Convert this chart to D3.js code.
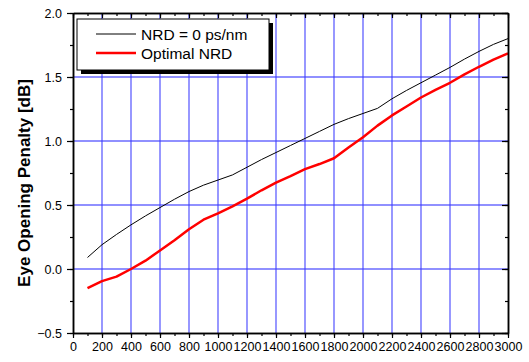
<!DOCTYPE html>
<html>
<head>
<meta charset="utf-8">
<script src="https://cdn.jsdelivr.net/npm/d3@7/dist/d3.min.js"></script>
<style>
  body { margin: 0; background: #fff; }
  svg { display: block; font-family: "Liberation Sans", Arial, sans-serif; }
</style>
</head>
<body>
<svg id="chart" width="529" height="362"></svg>
<script>
// transmission distance [km]
const distance = [100, 200, 300, 400, 500, 600, 700, 800, 900, 1000,
  1100, 1200, 1300, 1400, 1500, 1600, 1700, 1800, 1900, 2000,
  2100, 2200, 2300, 2400, 2500, 2600, 2700, 2800, 2900, 3000]

// eye opening penalty, NRD = 0 ps/nm
const penaltyZero = [0.09, 0.19, 0.27, 0.345, 0.415, 0.48, 0.545, 0.605, 0.655, 0.695,
  0.735, 0.795, 0.855, 0.91, 0.965, 1.02, 1.075, 1.13, 1.175, 1.215,
  1.255, 1.33, 1.395, 1.455, 1.515, 1.575, 1.64, 1.70, 1.755, 1.80]

// eye opening penalty, optimal NRD
const penaltyOpt = [-0.15, -0.095, -0.06, 0.0, 0.065, 0.145, 0.225, 0.31, 0.385, 0.435,
  0.49, 0.55, 0.615, 0.675, 0.725, 0.78, 0.82, 0.865, 0.95, 1.03,
  1.12, 1.2, 1.27, 1.34, 1.4, 1.455, 1.52, 1.58, 1.635, 1.685]

const xTicks = d3.range(0, 3001, 200)
const yTicks = [-0.5, 0.0, 0.5, 1.0, 1.5, 2.0]
const seriesNames = ['NRD = 0 ps/nm', 'Optimal NRD']

const margin = { top: 13, right: 21, bottom: 29, left: 73 }
const W = 529, H = 362
const w = W - margin.left - margin.right
const h = H - margin.top - margin.bottom
const FONT = '"Liberation Sans", Arial, sans-serif'

const svg = d3.select('#chart')
const g = svg.append('g').attr('transform', `translate(${margin.left},${margin.top})`)

const x = d3.scaleLinear().domain([0, 3000]).range([0, w])
const y = d3.scaleLinear().domain([-0.5, 2.0]).range([h, 0])

// grid
g.append('g')
  .selectAll('line')
  .data(xTicks.slice(1, -1))
  .join('line')
  .attr('x1', d => x(d)).attr('x2', d => x(d))
  .attr('y1', 0).attr('y2', h)
  .attr('stroke', '#3a3aff').attr('stroke-opacity', 0.75).attr('stroke-width', 1.4)
g.append('g')
  .selectAll('line')
  .data(yTicks.slice(1, -1))
  .join('line')
  .attr('x1', 0).attr('x2', w)
  .attr('y1', d => y(d)).attr('y2', d => y(d))
  .attr('stroke', '#3a3aff').attr('stroke-opacity', 0.75).attr('stroke-width', 1.4)

// data lines
const line = (vals) => d3.line().x((d, i) => x(distance[i])).y(d => y(d))(vals)
g.append('path').attr('d', line(penaltyZero))
  .attr('fill', 'none').attr('stroke', '#000').attr('stroke-width', 1)
g.append('path').attr('d', line(penaltyOpt))
  .attr('fill', 'none').attr('stroke', '#ff0000').attr('stroke-width', 2.5)
  .attr('stroke-linejoin', 'round')

// axes
const xMinor = d3.range(0, 3001, 100)
const yMinor = d3.range(-0.5, 2.01, 0.25)

g.append('g').attr('transform', `translate(0,${h})`)
  .call(d3.axisBottom(x).tickValues(xTicks).tickFormat(d3.format('d')).tickSize(5).tickSizeOuter(0).tickPadding(4))
g.append('g')
  .call(d3.axisLeft(y).tickValues(yTicks).tickFormat(d3.format('.1f')).tickSize(6).tickSizeOuter(0).tickPadding(5))
g.append('g')
  .call(d3.axisTop(x).tickValues(xTicks).tickSize(-5).tickSizeOuter(0).tickFormat(''))
g.append('g').attr('transform', `translate(${w},0)`)
  .call(d3.axisRight(y).tickValues(yTicks).tickSize(-6).tickSizeOuter(0).tickFormat(''))

// minor ticks
g.append('g').attr('transform', `translate(0,${h})`)
  .call(d3.axisBottom(x).tickValues(xMinor).tickSize(3).tickSizeOuter(0).tickFormat(''))
g.append('g')
  .call(d3.axisTop(x).tickValues(xMinor).tickSize(-3).tickSizeOuter(0).tickFormat(''))
g.append('g')
  .call(d3.axisLeft(y).tickValues(yMinor).tickSize(3).tickSizeOuter(0).tickFormat(''))
g.append('g').attr('transform', `translate(${w},0)`)
  .call(d3.axisRight(y).tickValues(yMinor).tickSize(-3).tickSizeOuter(0).tickFormat(''))

g.selectAll('.domain').attr('stroke', '#000').attr('stroke-width', 1.5)
g.selectAll('.tick line').attr('stroke', '#000').attr('stroke-width', 1.2)
g.selectAll('.tick text').attr('font-size', 12.5).attr('fill', '#000')
  .attr('font-family', FONT)

// y axis title
svg.append('text')
  .attr('transform', 'translate(30,183) rotate(-90)')
  .attr('text-anchor', 'middle')
  .attr('font-family', FONT)
  .attr('font-size', 17).attr('font-weight', 'bold')
  .text('Eye Opening Penalty [dB]')

// legend
const lg = g.append('g').attr('transform', 'translate(4,6)')
lg.append('rect').attr('x', 4).attr('y', 4).attr('width', 192).attr('height', 51).attr('fill', '#000')
lg.append('rect').attr('x', 0).attr('y', 0).attr('width', 192).attr('height', 51)
  .attr('fill', '#fff').attr('stroke', '#000').attr('stroke-width', 1)
const colors = ['#000', '#ff0000']
const widths = [1, 2.5]
seriesNames.forEach((name, i) => {
  const yy = 15 + i * 19
  lg.append('line').attr('x1', 19).attr('x2', 59).attr('y1', yy).attr('y2', yy)
    .attr('stroke', colors[i]).attr('stroke-width', widths[i])
  lg.append('text').attr('x', 64).attr('y', yy + 5.5)
    .attr('font-family', FONT)
    .attr('font-size', 15.5).attr('fill', '#000').text(name)
})
</script>
</body>
</html>
